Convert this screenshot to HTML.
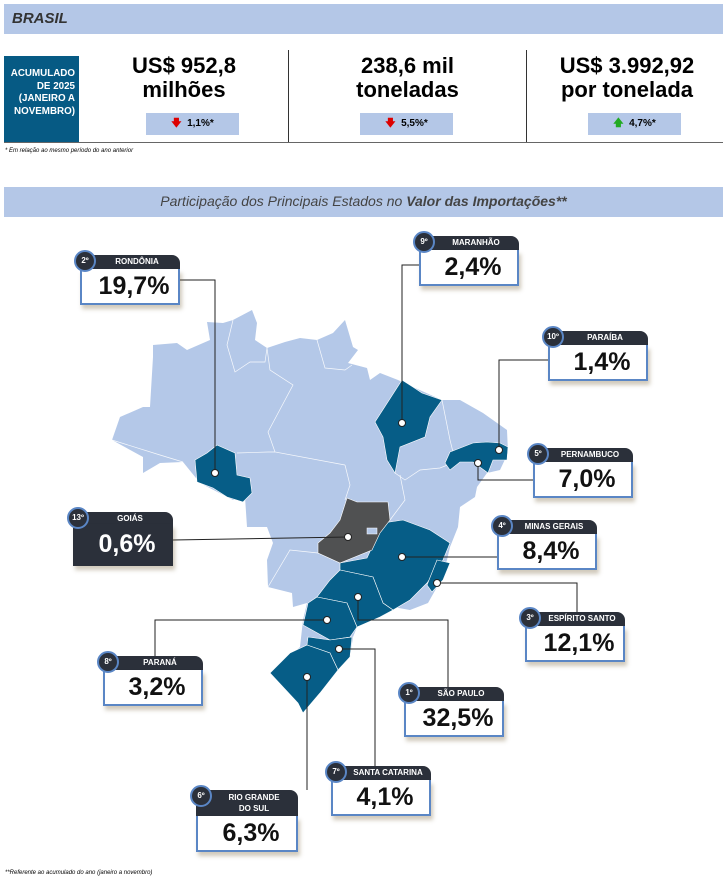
<!DOCTYPE html>
<html><head><meta charset="utf-8"><style>
body{margin:0;width:727px;height:884px;background:#fff;font-family:"Liberation Sans",sans-serif;position:relative;overflow:hidden}
.abs{position:absolute}
.bar{background:#b4c7e7}
.box{position:absolute;width:100px}
.box .h{height:14px;background:#2b303a;border-radius:0 8px 0 0;color:#fff;font-size:8px;font-weight:bold;text-align:center;line-height:14px;padding-left:14px}
.box .b{background:#fff;border:2px solid #5a86c5;border-top:none;font-weight:bold;font-size:25px;text-align:center;line-height:34px;padding-left:8px;box-shadow:2px 4px 4px rgba(120,100,60,.35);color:#111}
.box .c{position:absolute;left:-6px;top:-5px;width:18px;height:18px;border-radius:50%;background:#2b303a;border:2px solid #5a86c5;color:#fff;font-size:8px;font-weight:bold;text-align:center;line-height:18px}
</style></head><body>
<div class="abs bar" style="left:4px;top:4px;width:719px;height:30px"></div>
<div class="abs" style="left:12px;top:10px;font-size:15px;font-weight:bold;font-style:italic;color:#333">BRASIL</div>
<div class="abs" style="left:4px;top:56px;width:75px;height:86px;background:#065a84;color:#fff;font-size:9.8px;font-weight:bold;text-align:right;line-height:12.5px;padding:12px 4px 0 0;box-sizing:border-box">ACUMULADO DE 2025 (JANEIRO A NOVEMBRO)</div>
<div class="abs" style="left:4px;top:142px;width:719px;height:1px;background:#666"></div>
<div class="abs" style="left:288px;top:50px;width:1px;height:92px;background:#333"></div>
<div class="abs" style="left:526px;top:50px;width:1px;height:92px;background:#333"></div>
<div class="abs" style="left:80px;top:54px;width:208px;text-align:center;font-size:22px;font-weight:bold;line-height:24px">US$ 952,8<br>milhões</div>
<div class="abs" style="left:289px;top:54px;width:237px;text-align:center;font-size:22px;font-weight:bold;line-height:24px">238,6 mil<br>toneladas</div>
<div class="abs" style="left:527px;top:54px;width:200px;text-align:center;font-size:22px;font-weight:bold;line-height:24px">US$ 3.992,92<br>por tonelada</div>
<div class="abs bar" style="left:146px;top:113px;width:93px;height:22px;font-size:10px;font-weight:bold;line-height:22px;text-align:center"><span style="color:#d00">🡇</span>&nbsp; 1,1%*</div>
<div class="abs bar" style="left:360px;top:113px;width:93px;height:22px;font-size:10px;font-weight:bold;line-height:22px;text-align:center"><span style="color:#d00">🡇</span>&nbsp; 5,5%*</div>
<div class="abs bar" style="left:588px;top:113px;width:93px;height:22px;font-size:10px;font-weight:bold;line-height:22px;text-align:center"><span style="color:#2a2">🡅</span>&nbsp; 4,7%*</div>
<div class="abs" style="left:5px;top:148px;font-size:6px;font-style:italic">* Em relação ao mesmo período do ano anterior</div>
<div class="abs bar" style="left:4px;top:187px;width:719px;height:30px"></div>
<div class="abs" style="left:4px;top:193px;width:719px;text-align:center;font-size:14px;font-style:italic;color:#444">Participação dos Principais Estados no <b>Valor das Importações**</b></div>

<svg class="abs" style="left:0;top:0" width="727" height="884">
<polygon fill="#b4c8e8" points="112,440 120,417 143,407 150,407 153,357 153,345 177,343 187,350 210,340 207,322 223,323 233,320 252,310 257,323 255,340 267,348 285,342 300,338 317,340 333,333 345,320 353,347 358,350 348,363 367,368 370,380 380,373 398,380 413,387 442,400 460,400 483,413 507,430 508,453 500,470 487,473 477,487 475,497 460,507 458,527 450,547 447,560 437,587 428,603 410,610 393,607 387,613 357,627 353,637 350,657 333,670 317,693 303,713 300,703 270,673 300,647 303,620 307,603 293,607 292,593 268,587 267,560 273,543 267,527 247,527 245,497 233,500 200,483 183,462 160,463 143,473 143,457"/>
<g fill="none" stroke="#fff" stroke-width="0.7" opacity="0.9">
<polyline points="112,440 160,455 183,462"/>
<polyline points="233,320 227,345 235,372 250,362 265,362 267,348"/>
<polyline points="267,348 270,370 293,385 268,432 275,452 345,465"/>
<polyline points="237,453 268,452 275,452"/>
<polyline points="345,465 350,485 345,500"/>
<polyline points="317,340 325,368 345,370 352,365"/>
<polyline points="442,400 450,440 455,460"/>
<polyline points="395,473 405,480 420,470 440,468 455,462"/>
<polyline points="268,587 290,550 318,553"/>
<polyline points="390,520 405,500 400,475"/>
</g>
<g fill="#065d87" stroke="#fff" stroke-width="0.6">
<polygon points="217,445 235,453 237,475 250,478 252,493 243,502 227,497 213,488 197,482 195,460 207,453"/>
<polygon points="402,380 413,387 422,393 442,400 430,417 425,437 400,447 395,473 387,460 383,437 375,422"/>
<polygon points="450,452 473,443 487,442 500,443 508,447 507,460 493,460 488,473 473,462 460,462 450,470 445,463"/>
<polygon points="340,563 367,558 383,523 403,520 430,530 450,543 443,560 427,583 410,600 393,610 383,603 373,577 340,570"/>
<polygon points="437,560 450,563 443,580 432,592 427,585"/>
<polygon points="340,570 373,577 383,603 393,610 380,617 357,627 347,603 317,597 330,580"/>
<polygon points="317,597 347,603 357,627 350,637 330,640 303,625 308,603"/>
<polygon points="308,637 330,640 352,637 350,657 338,670 330,653 307,645"/>
<polygon points="307,645 330,653 338,670 320,693 303,713 298,703 270,673 290,653"/>
</g>
<polygon fill="#505152" stroke="#fff" stroke-width="0.6" points="347,498 357,502 388,502 390,520 380,533 372,550 340,563 318,553 318,543 330,533 340,520"/>
<rect x="367" y="528" width="10" height="6" fill="#b4c8e8" stroke="#fff" stroke-width="0.5"/>
<g fill="none" stroke="#222" stroke-width="1">
<polyline points="180,280 215,280 215,473"/>
<polyline points="420,265 402,265 402,423"/>
<polyline points="548,360 499,360 499,450"/>
<polyline points="478,463 478,480 533,480"/>
<polyline points="173,540 348,537"/>
<polyline points="402,557 497,557"/>
<polyline points="437,583 577,583 577,612"/>
<polyline points="327,620 155,620 155,656"/>
<polyline points="358,597 358,620 448,620 448,688"/>
<polyline points="339,649 375,649 375,767"/>
<polyline points="307,677 307,790"/>
</g>
<g fill="#fff" stroke="#222" stroke-width="1">
<circle cx="215" cy="473" r="3.5"/><circle cx="402" cy="423" r="3.5"/><circle cx="499" cy="450" r="3.5"/><circle cx="478" cy="463" r="3.5"/><circle cx="348" cy="537" r="3.5"/><circle cx="402" cy="557" r="3.5"/><circle cx="437" cy="583" r="3.5"/><circle cx="327" cy="620" r="3.5"/><circle cx="358" cy="597" r="3.5"/><circle cx="339" cy="649" r="3.5"/><circle cx="307" cy="677" r="3.5"/>
</g>
</svg>

<div class="box" style="left:80px;top:255px"><div class="h">RONDÔNIA</div><div class="b">19,7%</div><div class="c">2º</div></div>
<div class="box" style="left:419px;top:236px"><div class="h">MARANHÃO</div><div class="b">2,4%</div><div class="c">9º</div></div>
<div class="box" style="left:548px;top:331px"><div class="h">PARAÍBA</div><div class="b">1,4%</div><div class="c">10º</div></div>
<div class="box" style="left:533px;top:448px"><div class="h">PERNAMBUCO</div><div class="b">7,0%</div><div class="c">5º</div></div>
<div class="box" style="left:73px;top:512px"><div class="h" style="height:12px">GOIÁS</div><div class="b" style="background:#2b303a;color:#fff;border-color:#2b303a;line-height:40px">0,6%</div><div class="c">13º</div></div>
<div class="box" style="left:497px;top:520px"><div class="h">MINAS GERAIS</div><div class="b">8,4%</div><div class="c">4º</div></div>
<div class="box" style="left:525px;top:612px"><div class="h">ESPÍRITO SANTO</div><div class="b">12,1%</div><div class="c">3º</div></div>
<div class="box" style="left:103px;top:656px"><div class="h">PARANÁ</div><div class="b">3,2%</div><div class="c">8º</div></div>
<div class="box" style="left:404px;top:687px"><div class="h">SÃO PAULO</div><div class="b">32,5%</div><div class="c">1º</div></div>
<div class="box" style="left:331px;top:766px"><div class="h">SANTA CATARINA</div><div class="b">4,1%</div><div class="c">7º</div></div>
<div class="box" style="left:196px;top:790px;width:102px"><div class="h" style="height:24px;line-height:11px;padding-top:2px">RIO GRANDE<br>DO SUL</div><div class="b">6,3%</div><div class="c">6º</div></div>
<div class="abs" style="left:5px;top:870px;font-size:6px;font-style:italic">**Referente ao acumulado do ano (janeiro a novembro)</div>
</body></html>
